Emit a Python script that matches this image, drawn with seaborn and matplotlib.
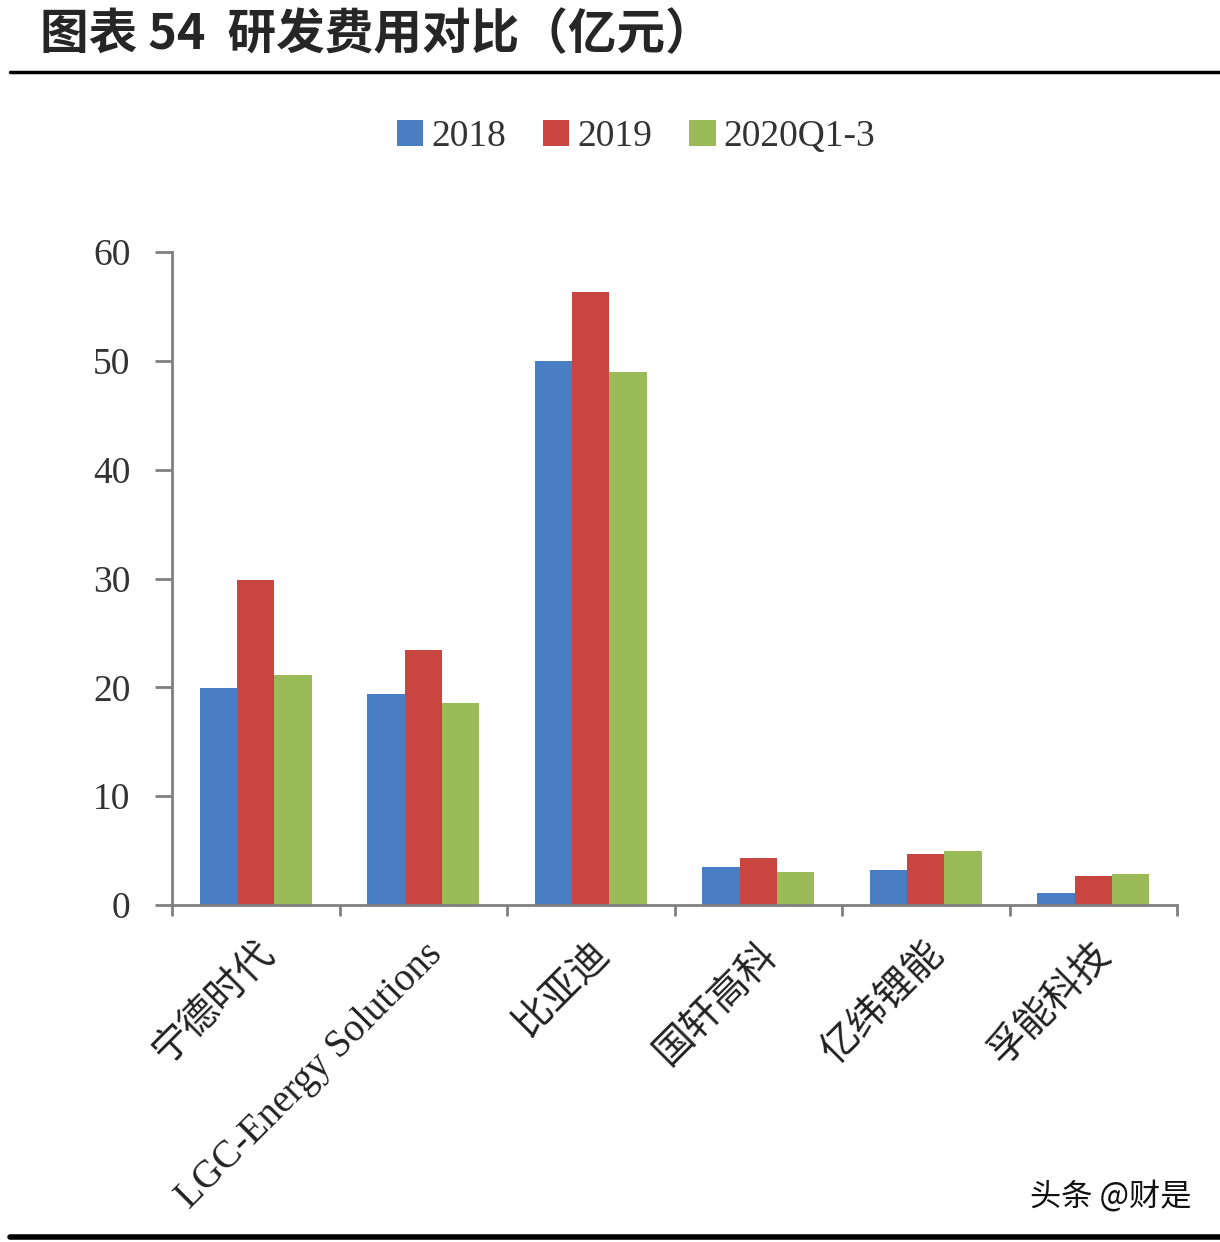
import pandas as pd
import seaborn as sns
import matplotlib.pyplot as plt
from matplotlib.ticker import FixedLocator

# data
companies = ["宁德时代", "LGC-Energy Solutions", "比亚迪", "国轩高科", "亿纬锂能", "孚能科技"]
rd_2018 = [19.9, 19.4, 50.0, 3.5, 3.2, 1.1]
rd_2019 = [29.9, 23.4, 56.3, 4.3, 4.7, 2.7]
rd_2020q = [21.1, 18.6, 49.0, 3.0, 5.0, 2.85]
years = ["2018", "2019", "2020Q1-3"]
y_ticks = [0, 10, 20, 30, 40, 50, 60]

df = pd.DataFrame({"company": companies, "2018": rd_2018, "2019": rd_2019, "2020Q1-3": rd_2020q})
df_long = pd.melt(df, id_vars="company", value_vars=years, var_name="year", value_name="value")

sns.set_theme(style="white")
plt.rcParams["font.family"] = ["Liberation Serif", "Noto Sans CJK SC", "DejaVu Sans"]

colors = ["#4A7EC4", "#C8463F", "#9BBB59"]

fig = plt.figure(figsize=[12.2, 12.42], dpi=100)
ax = fig.add_axes([172 / 1220, 1 - 905 / 1242, (1177 - 172) / 1220, (905 - 252) / 1242])

sns.barplot(df_long, x="company", y="value", hue="year", palette=colors,
            width=0.67, gap=0, saturation=1, linewidth=0, ax=ax, legend=True)

ax.set_ylim(0, 60)
ax.set_xlim(-0.5, 5.5)
ax.set_yticks(y_ticks)
ax.set_ylabel("")
ax.set_xlabel("")

for s in ["top", "right"]:
    ax.spines[s].set_visible(False)
for s in ["left", "bottom"]:
    ax.spines[s].set_color("#7f7f7f")
    ax.spines[s].set_linewidth(2)

ax.tick_params(axis="y", direction="out", length=12, width=2, color="#7f7f7f",
               labelsize=27, labelcolor="#333333", pad=18, left=True)
ax.tick_params(axis="x", which="major", length=0, pad=22)
ax.xaxis.set_minor_locator(FixedLocator([i - 0.5 for i in range(7)]))
ax.tick_params(axis="x", which="minor", direction="out", length=8, width=2,
               color="#7f7f7f", bottom=True)
ax.set_xticks(range(len(companies)))
ax.set_xticklabels(companies, rotation=45, ha="right", va="top",
                   rotation_mode="anchor", fontsize=28, color="#222222")

handles, labels = ax.get_legend_handles_labels()
ax.legend(handles, labels, loc="center", bbox_to_anchor=(636 / 1220, 1 - 137 / 1242),
          bbox_transform=fig.transFigure, ncol=3, frameon=False, fontsize=27,
          handlelength=0.7, handleheight=0.7, handletextpad=0.2, columnspacing=1.0,
          labelcolor="#333333")

# title and rules
fig.text(40 / 1220, 1 - 35 / 1242, "图表 54  研发费用对比（亿元）", fontsize=35,
         fontweight="bold", va="center", ha="left",
         family=["Noto Sans CJK SC", "DejaVu Sans"])
fig.add_artist(plt.Line2D([10 / 1220, 1], [1 - 72 / 1242] * 2, color="black", lw=2.5))
fig.add_artist(plt.Line2D([10 / 1220, 1], [1 - 1237 / 1242] * 2, color="black", lw=4))
fig.text(1192 / 1220, 1 - 1197 / 1242, "头条 @财是", fontsize=22.5, ha="right", va="center",
         family=["Noto Sans CJK SC", "DejaVu Sans"], color="#111111")

fig.savefig("out.png", dpi=100, facecolor="white")
